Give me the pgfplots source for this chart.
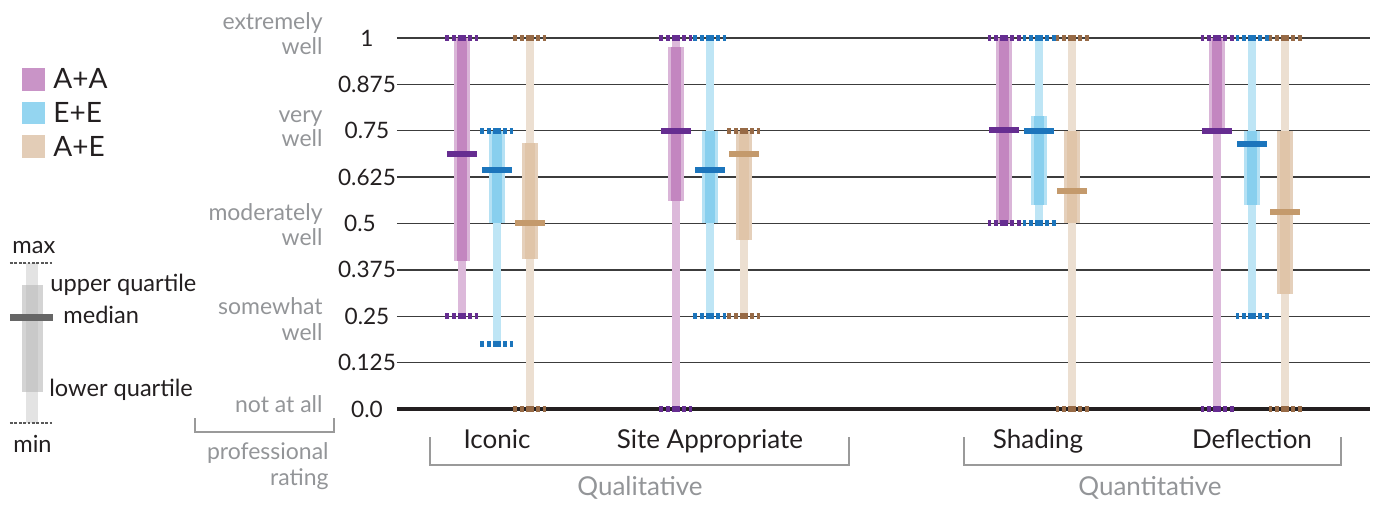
\documentclass[border=0pt]{standalone}
\usepackage{pgfplots}
\pgfplotsset{compat=1.18}
\usepackage{pgfplotstable}
\usepackage{fontspec}
\setmainfont{Lato}

\definecolor{txt}{HTML}{231F20}
\definecolor{graytxt}{HTML}{939598}
\definecolor{gridc}{HTML}{3C3C3C}
\definecolor{brk}{HTML}{9A9A9A}
% A+A
\definecolor{aaBox}{HTML}{DAB5D8}
\definecolor{aaWh}{HTML}{DCB9DA}
\definecolor{aaDark}{HTML}{C386C0}
\definecolor{aaMed}{HTML}{662D91}
\definecolor{aaCap}{HTML}{662D91}
\definecolor{aaLeg}{HTML}{C994C7}
% E+E
\definecolor{eeBox}{HTML}{B5E1F4}
\definecolor{eeWh}{HTML}{BEE5F5}
\definecolor{eeDark}{HTML}{88CFEE}
\definecolor{eeMed}{HTML}{1C75BC}
\definecolor{eeCap}{HTML}{1C75BC}
\definecolor{eeLeg}{HTML}{94D5F0}
% A+E
\definecolor{aeBox}{HTML}{E5D0BB}
\definecolor{aeWh}{HTML}{ECDFD1}
\definecolor{aeDark}{HTML}{E0C5A9}
\definecolor{aeMed}{HTML}{C49A6C}
\definecolor{aeCap}{HTML}{976A46}
\definecolor{aeLeg}{HTML}{E3CDB7}

\tikzset{
  tl/.style={anchor=center, inner sep=0pt, text=txt, font=\fontsize{11.3}{13}\selectfont},
  gl/.style={anchor=base east, inner sep=0pt, text=graytxt, font=\fontsize{11.5}{13}\selectfont},
  cl/.style={anchor=base, inner sep=0pt, text=txt, font=\fontsize{13}{15}\selectfont},
  ll/.style={anchor=base west, inner sep=0pt, text=txt, font=\fontsize{14}{16}\selectfont},
  kl/.style={anchor=base west, inner sep=0pt, text=txt, font=\fontsize{11.8}{14}\selectfont},
}

% x = horizontal position, then min, lower quartile, median, upper quartile, max
\pgfplotstableread{
x    lo    qa    med     qb     hi
462  0.25  0.40  0.6875  1.00   1
676  0     0.56  0.75    0.975  1
1004 0.5   0.5   0.752   1.00   1
1217 0     0.75  0.75    1.00   1
}\tabAA
\pgfplotstableread{
x    lo    qa    med     qb     hi
497  0.175 0.50  0.645   0.75   0.75
710  0.25  0.50  0.645   0.75   1
1039 0.5   0.55  0.75    0.79   1
1252 0.25  0.55  0.715   0.75   1
}\tabEE
\pgfplotstableread{
x    lo    qa    med     qb     hi
530  0     0.405 0.5     0.717  1
744  0.25  0.455 0.6875  0.75   0.75
1072 0     0.5   0.588   0.75   1
1285 0     0.31  0.53    0.75   1
}\tabAE

\pgfplotsset{bx/.style={forget plot, draw=none, no markers}}

\newcommand\boxseries[6]{%
% box (light)
\addplot[bx, error bars/.cd, y dir=both, y explicit, error mark=none,
  error bar style={draw=#2, line width=8pt, solid}]
  table[x=x, y=med, y error plus expr=\thisrow{qb}-\thisrow{med}, y error minus expr=\thisrow{med}-\thisrow{qa}] {#1};
% whisker
\addplot[bx, error bars/.cd, y dir=both, y explicit, error mark=none,
  error bar style={draw=#3, line width=4.3pt, solid}]
  table[x=x, y=med, y error plus expr=\thisrow{hi}-\thisrow{med}, y error minus expr=\thisrow{med}-\thisrow{lo}] {#1};
% overlap of box and whisker
\addplot[bx, error bars/.cd, y dir=both, y explicit, error mark=none,
  error bar style={draw=#4, line width=4.6pt, solid}]
  table[x=x, y=med, y error plus expr=\thisrow{qb}-\thisrow{med}, y error minus expr=\thisrow{med}-\thisrow{qa}] {#1};
% caps
\addplot[bx, error bars/.cd, x dir=both, x fixed=16.5, error mark=none,
  error bar style={draw=#6, line width=3pt, dash pattern=on 2pt off 1.15pt}]
  table[x=x, y=lo] {#1};
\addplot[bx, error bars/.cd, x dir=both, x fixed=16.5, error mark=none,
  error bar style={draw=#6, line width=3pt, dash pattern=on 2pt off 1.15pt}]
  table[x=x, y=hi] {#1};
% median
\addplot[bx, error bars/.cd, x dir=both, x fixed=15, error mark=none,
  error bar style={draw=#5, line width=3pt, solid}]
  table[x=x, y=med] {#1};
}

\begin{document}
\begin{tikzpicture}
\begin{axis}[
  scale only axis, width=486.5pt, height=185.5pt,
  xmin=397, xmax=1370, ymin=0, ymax=1,
  clip=false,
  axis line style={draw=none},
  xtick=\empty,
  ytick={0,0.125,0.25,0.375,0.5,0.625,0.75,0.875,1},
  yticklabels={},
  yticklabel style={opacity=0},
  major tick length=0pt,
  ymajorgrids, grid style={line width=0.7pt, color=gridc},
]
% canvas
\path (axis cs:0,-0.2561) rectangle (axis cs:1376,1.1024);
% baseline at 0
\addplot[forget plot, line width=2pt, color=txt, no markers] coordinates {(397,0) (1370,0)};

\boxseries{\tabAA}{aaBox}{aaWh}{aaDark}{aaMed}{aaCap}
\boxseries{\tabEE}{eeBox}{eeWh}{eeDark}{eeMed}{eeCap}
\boxseries{\tabAE}{aeBox}{aeWh}{aeDark}{aeMed}{aeCap}

% y tick labels
\node[tl] at (axis cs:367,1) {1};
\node[tl] at (axis cs:367,0.875) {0.875};
\node[tl] at (axis cs:367,0.75) {0.75};
\node[tl] at (axis cs:367,0.625) {0.625};
\node[tl] at (axis cs:360,0.5) {0.5};
\node[tl] at (axis cs:367,0.375) {0.375};
\node[tl] at (axis cs:367,0.25) {0.25};
\node[tl] at (axis cs:367,0.125) {0.125};
\node[tl] at (axis cs:367,0) {0.0};

% rating words
\node[gl] at (axis cs:323,1.0229) {extremely};
\node[gl] at (axis cs:323,0.9555) {well};
\node[gl] at (axis cs:323,0.7709) {very};
\node[gl] at (axis cs:323,0.7062) {well};
\node[gl] at (axis cs:323,0.5094) {moderately};
\node[gl] at (axis cs:323,0.4420) {well};
\node[gl] at (axis cs:323,0.2534) {somewhat};
\node[gl] at (axis cs:323,0.1846) {well};
\node[gl] at (axis cs:323,-0.0094) {not at all};
\draw[brk, line width=0.75pt] (axis cs:195,-0.0243) -- (axis cs:195,-0.0620) -- (axis cs:334,-0.0620) -- (axis cs:334,-0.0243);
\node[gl] at (axis cs:329,-0.1348) {professional};
\node[gl] at (axis cs:329,-0.2049) {rating};

% category labels
\node[cl] at (axis cs:497,-0.1078) {Iconic};
\node[cl] at (axis cs:710,-0.1078) {Site Appropriate};
\node[cl] at (axis cs:1038,-0.1078) {Shading};
\node[cl] at (axis cs:1252,-0.1078) {Deflection};
\draw[brk, line width=0.75pt] (axis cs:430,-0.0755) -- (axis cs:430,-0.1509) -- (axis cs:849,-0.1509) -- (axis cs:849,-0.0755);
\draw[brk, line width=0.75pt] (axis cs:964,-0.0755) -- (axis cs:964,-0.1509) -- (axis cs:1341,-0.1509) -- (axis cs:1341,-0.0755);
\node[cl, text=graytxt] at (axis cs:640,-0.2345) {Qualitative};
\node[cl, text=graytxt] at (axis cs:1150,-0.2345) {Quantitative};

% series legend
\fill[aaLeg] (axis cs:22,0.9183) rectangle (axis cs:45,0.8571);
\fill[eeLeg] (axis cs:22,0.8283) rectangle (axis cs:45,0.7674);
\fill[aeLeg] (axis cs:22,0.7385) rectangle (axis cs:45,0.6774);
\node[ll] at (axis cs:53,0.8639) {A+A};
\node[ll] at (axis cs:53,0.7717) {E+E};
\node[ll] at (axis cs:53,0.6819) {A+E};

% box-plot key
\fill[black!11] (axis cs:26,0.3935) rectangle (axis cs:38,-0.0377);
\fill[black!17] (axis cs:22,0.3342) rectangle (axis cs:43,0.0458);
\fill[black!21] (axis cs:26,0.3342) rectangle (axis cs:38,0.0458);
\fill[black!60] (axis cs:10,0.2547) rectangle (axis cs:53,0.2359);
\draw[black!65, line width=0.6pt, dash pattern=on 1.4pt off 0.8pt] (axis cs:10,0.3935) -- (axis cs:53,0.3935);
\draw[black!65, line width=0.6pt, dash pattern=on 1.4pt off 0.8pt] (axis cs:10,-0.0377) -- (axis cs:53,-0.0377);
\node[kl] at (axis cs:12,0.4178) {max};
\node[kl] at (axis cs:50,0.3154) {upper quartile};
\node[kl] at (axis cs:63,0.2291) {median};
\node[kl] at (axis cs:49,0.0350) {lower quartile};
\node[kl] at (axis cs:13,-0.1186) {min};
\end{axis}
\end{tikzpicture}
\end{document}
